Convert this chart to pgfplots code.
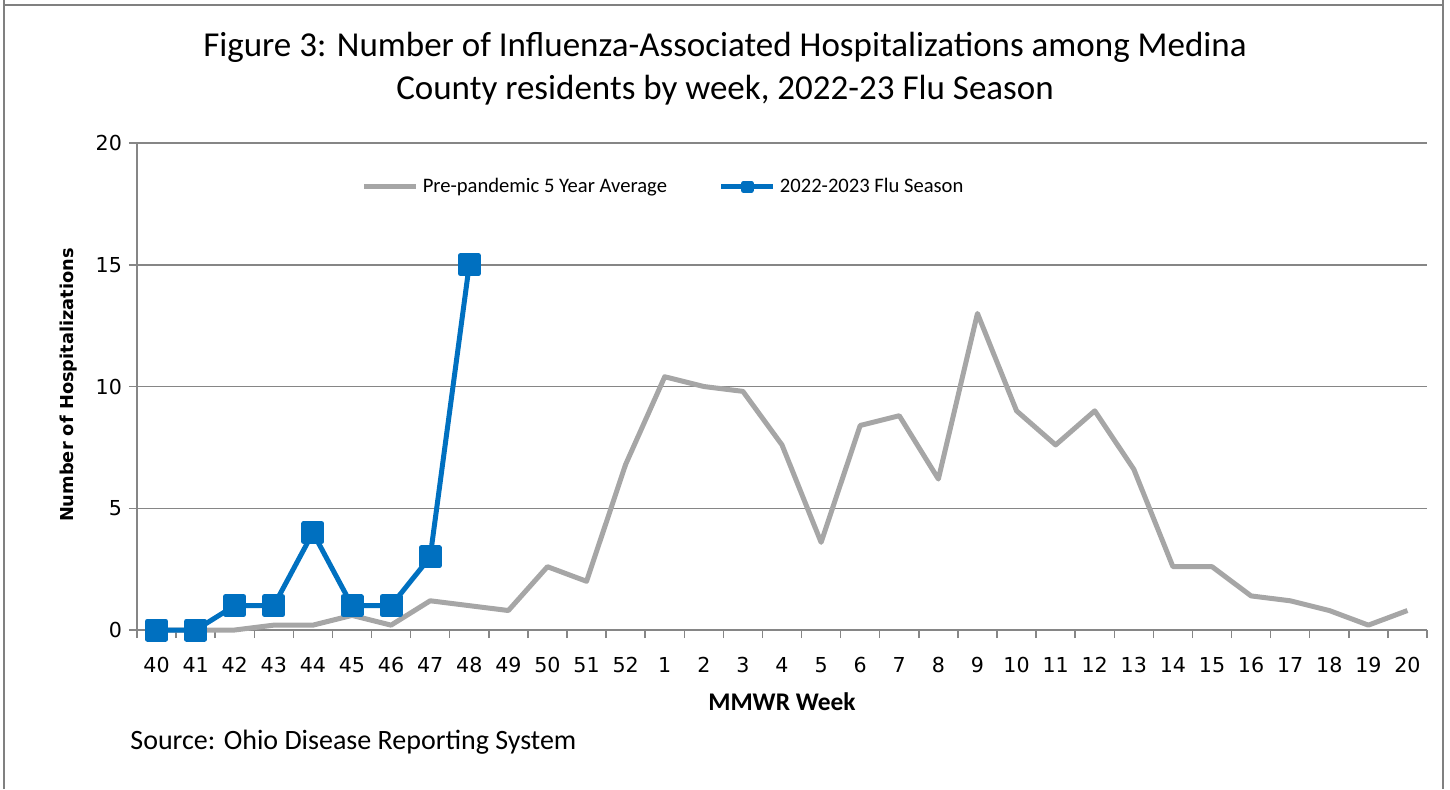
\documentclass[border=0pt]{standalone}
\usepackage{pgfplots}
\usepackage{pgfplotstable}
\pgfplotsset{compat=1.18}
\usepackage{fontspec}
\setmainfont{Carlito}
\newfontfamily\tah{DejaVu Sans}
\definecolor{avggray}{HTML}{A6A6A6}
\definecolor{flublue}{HTML}{0070C0}
\definecolor{gridgray}{HTML}{868686}
\pgfplotstableread{
i avg
0 0
1 0
2 0
3 0.2
4 0.2
5 0.6
6 0.2
7 1.2
8 1.0
9 0.8
10 2.6
11 2.0
12 6.8
13 10.4
14 10.0
15 9.8
16 7.6
17 3.6
18 8.4
19 8.8
20 6.2
21 13.0
22 9.0
23 7.6
24 9.0
25 6.6
26 2.6
27 2.6
28 1.4
29 1.2
30 0.8
31 0.2
32 0.8
}\avgtab
\pgfplotstableread{
i flu
0 0
1 0
2 1
3 1
4 4
5 1
6 1
7 3
8 15
}\flutab
\begin{document}
\begin{tikzpicture}
\begin{scope}[x=0.5pt,y=0.5pt]
\path[use as bounding box] (0,0) rectangle (1450,789);
\draw[gray, line width=1pt] (4,789) -- (4,784) -- (1443,784) -- (1443,789);
\draw[gray, line width=1pt] (4,0) -- (4,784);
\draw[gray, line width=1pt] (1443,0) -- (1443,784);
\node[font=\fontsize{17.5}{21}\selectfont] at (725,742) {Figure 3: Number of Influenza-Associated Hospitalizations among Medina};
\node[font=\fontsize{17.5}{21}\selectfont] at (725,699) {County residents by week, 2022-23 Flu Season};
\node[font=\bfseries\fontsize{12.7}{15}\selectfont] at (782,87) {MMWR Week};
\node[font=\fontsize{14}{16}\selectfont, anchor=west, inner sep=0pt] at (130,47) {Source: Ohio Disease Reporting System};
\node[font=\tah\bfseries\fontsize{8.9}{11}\selectfont, rotate=90] at (69,404) {Number of Hospitalizations};
\end{scope}
\begin{axis}[
  at={(68.5pt,79.5pt)}, anchor=south west, scale only axis,
  width=645pt, height=243.5pt,
  xmin=-0.5, xmax=32.5, ymin=0, ymax=20,
  axis lines*=left,
  axis line style={-, draw=gridgray, line width=0.75pt},
  ymajorgrids, grid style={draw=gridgray, line width=0.75pt},
  ytick={0,5,10,15,20},
  xtick={0,...,32},
  xticklabels={40,41,42,43,44,45,46,47,48,49,50,51,52,1,2,3,4,5,6,7,8,9,10,11,12,13,14,15,16,17,18,19,20},
  minor xtick={-0.5,0.5,...,32.5},
  tick align=outside,
  major tick length=4pt, minor tick length=4pt,
  xtick style={draw=none},
  minor x tick style={draw=gridgray, line width=0.75pt},
  ytick style={draw=gridgray, line width=0.75pt},
  tick label style={font=\tah\fontsize{10.3}{12}\selectfont},
  /pgf/number format/assume math mode=true,
  xticklabel style={yshift=-6pt},
  yticklabel style={xshift=0pt},
  clip=false,
  legend columns=2,
  legend style={at={(0.409,0.91)}, anchor=center, draw=none, fill=none,
    font=\fontsize{10.3}{12}\selectfont,
    /tikz/every even column/.append style={column sep=24pt},
    /tikz/every odd column/.append style={inner xsep=1pt}},
  legend cell align=left,
  legend image code/.code={
    \draw[#1,mark=none] (0pt,0pt) -- (26pt,0pt);
    \draw[#1,only marks,mark size=1.8pt] plot coordinates {(13pt,0pt)};
  },
]
\addplot[avggray, line width=2.5pt, line join=round] table[x=i,y=avg] {\avgtab};
\addlegendentry{Pre-pandemic 5 Year Average}
\addplot[flublue, line width=2.5pt, line join=round, mark=square*, mark size=4.5pt, mark options={solid}] table[x=i,y=flu] {\flutab};
\addlegendentry{2022-2023 Flu Season}
\end{axis}
\end{tikzpicture}
\end{document}
